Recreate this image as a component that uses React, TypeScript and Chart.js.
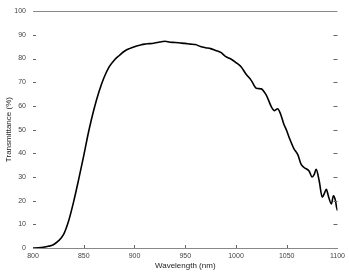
import React, { useEffect, useRef } from "react";
import { Chart, registerables } from "chart.js";

Chart.register(...registerables);

const wavelengths = [
  800, 805, 810, 815, 820, 825, 830, 835, 840, 845, 850, 855, 860, 865, 870, 875, 880, 885, 890, 895,
  900, 905, 910, 915, 920, 925, 930, 935, 940, 945, 950, 955, 960, 965, 970, 975, 980, 985, 990, 995,
  1000, 1005, 1010, 1015, 1020, 1025, 1028, 1030, 1035, 1038, 1041, 1044, 1047, 1050, 1053, 1057, 1061,
  1064, 1067, 1072, 1075, 1077, 1079, 1082, 1085, 1087, 1089, 1091, 1094, 1096, 1098, 1099, 1100,
];
const transmittance = [
  0, 0.1, 0.3, 0.7, 1.4, 3.0, 5.6, 11.3, 19.5, 29, 39, 49.5, 58.5, 66, 72, 76.5, 79.3, 81.3, 83.1, 84.2,
  85, 85.6, 86.1, 86.3, 86.6, 87.0, 87.3, 86.9, 86.8, 86.6, 86.4, 86.1, 85.9, 85.1, 84.6, 84.2, 83.4, 82.6, 80.8, 79.8,
  78.3, 76.5, 73.4, 70.8, 67.5, 67.2, 65.8, 64.5, 59.5, 58, 58.8, 56.5, 52.5, 49.5, 46, 42, 39.3,
  35.5, 34, 32.5, 30, 31, 33.2, 28.3, 21.5, 23, 24.8, 22, 18.6, 22, 20, 17.5, 15.8,
];
const xTicks = [800, 850, 900, 950, 1000, 1050, 1100];
const yTicks = [0, 10, 20, 30, 40, 50, 60, 70, 80, 90, 100];

const FONT = "'Liberation Sans', Arial, sans-serif";

const frame = {
  id: "frame",
  afterDraw(chart: any) {
    const { ctx, chartArea, scales } = chart;
    const { left, right, top, bottom } = chartArea;
    ctx.save();
    ctx.strokeStyle = "#888";
    ctx.lineWidth = 1;
    ctx.beginPath();
    ctx.moveTo(left, Math.round(top) + 0.5);
    ctx.lineTo(right, Math.round(top) + 0.5);
    ctx.stroke();
    ctx.strokeStyle = "#666";
    ctx.beginPath();
    yTicks.forEach((v) => {
      const y = Math.round(scales.y.getPixelForValue(v)) + 0.5;
      if (v === 0 || v === 100) return;
      ctx.moveTo(left, y);
      ctx.lineTo(left + 3, y);
      ctx.moveTo(right - 4, y);
      ctx.lineTo(right, y);
    });
    xTicks.forEach((v) => {
      const x = Math.round(scales.x.getPixelForValue(v)) + 0.5;
      if (v === 800 || v === 1100) return;
      ctx.moveTo(x, bottom);
      ctx.lineTo(x, bottom - 3);
    });
    ctx.stroke();
    ctx.restore();
  },
};

export default function App() {
  const ref = useRef<HTMLCanvasElement>(null);
  useEffect(() => {
    if (!ref.current) return;
    const chart = new Chart(ref.current, {
      type: "line",
      data: {
        datasets: [
          {
            data: wavelengths.map((w, i) => ({ x: w, y: transmittance[i] })),
            borderColor: "#000",
            borderWidth: 1.6,
            pointRadius: 0,
            cubicInterpolationMode: "monotone",
            fill: false,
          },
        ],
      },
      plugins: [frame],
      options: {
        animation: false,
        responsive: false,
        layout: { padding: { top: 8, right: 11, left: 0, bottom: 0 } },
        plugins: { legend: { display: false }, tooltip: { enabled: false } },
        scales: {
          x: {
            type: "linear",
            min: 800,
            max: 1100,
            afterBuildTicks: (s: any) => {
              s.ticks = xTicks.map((v) => ({ value: v }));
            },
            afterFit: (s: any) => {
              s.height = 27;
            },
            grid: { display: false, drawTicks: false },
            border: { display: true, color: "#888", width: 1 },
            ticks: {
              font: { family: FONT, size: 7 },
              color: "#444",
              padding: 4,
              maxRotation: 0,
              callback: (v: any) => String(v),
            },
            title: {
              display: true,
              text: "Wavelength (nm)",
              font: { family: FONT, size: 8 },
              color: "#222",
              padding: { top: 0, bottom: 4 },
            },
          },
          y: {
            min: 0,
            max: 100,
            afterBuildTicks: (s: any) => {
              s.ticks = yTicks.map((v) => ({ value: v }));
            },
            afterFit: (s: any) => {
              s.width = 33;
            },
            grid: { display: false, drawTicks: false },
            border: { display: false },
            ticks: { font: { family: FONT, size: 7 }, color: "#444", padding: 7, callback: (v: any) => String(v) },
            title: {
              display: true,
              text: "Transmittance (%)",
              font: { family: FONT, size: 8 },
              color: "#222",
              padding: { top: 4, bottom: 0 },
            },
          },
        },
      },
    });
    return () => chart.destroy();
  }, []);
  return (
    <div style={{ position: "fixed", left: 0, top: 0, width: 349, height: 275, background: "#fff" }}>
      <canvas ref={ref} width={349} height={275} style={{ width: 349, height: 275 }} />
    </div>
  );
}
